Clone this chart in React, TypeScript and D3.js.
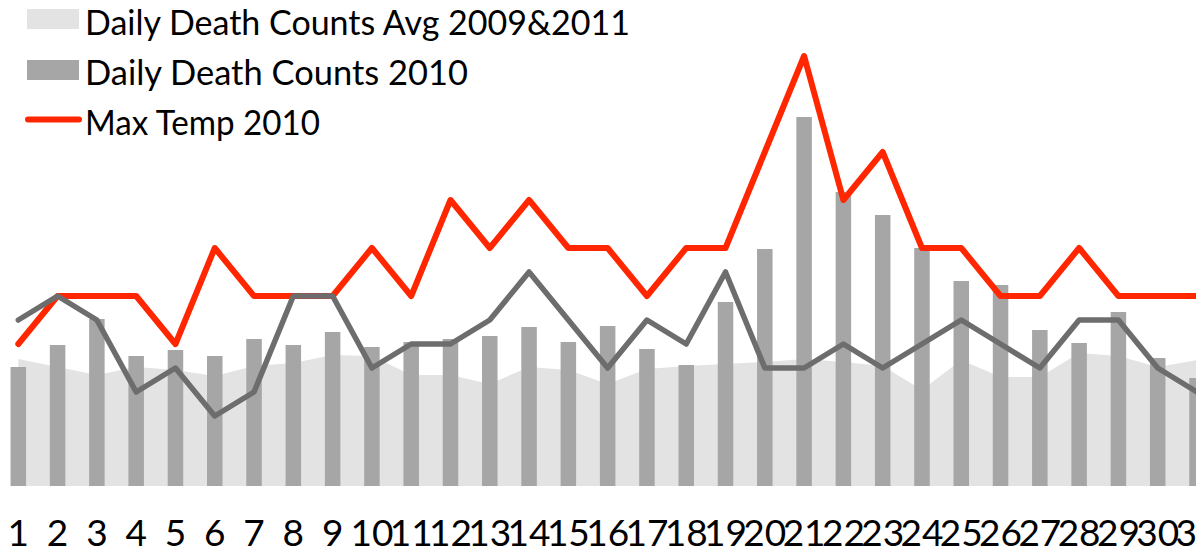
import React from "react";
import * as d3 from "d3";

const days = [
  "1", "2", "3", "4", "5", "6", "7", "8", "9", "10", "11", "12", "13", "14", "15", "16",
  "17", "18", "19", "20", "21", "22", "23", "24", "25", "26", "27", "28", "29", "30", "31",
];

// daily death counts, average of 2009 & 2011 (area)
const deathsAvg = [
  127, 119, 111, 119, 116, 110, 120, 123, 131, 130, 111, 111, 102, 119, 116, 102,
  117, 120, 122, 124, 127, 124, 120, 96, 126, 109, 109, 133, 130, 119, 126,
];

// daily death counts 2010 (bars)
const deaths2010 = [
  119, 141, 167, 130, 136, 130, 147, 141, 154, 139, 144, 147, 150, 159, 144, 160,
  137, 121, 184, 237, 369, 294, 271, 238, 205, 201, 156, 143, 174, 128, 108,
];

// max temperature 2010 (red line)
const maxTemp2010 = [
  29, 30, 30, 30, 29, 31, 30, 30, 30, 31, 30, 32, 31, 32, 31, 31,
  30, 31, 31, 33, 35, 32, 33, 31, 31, 30, 30, 31, 30, 30, 30,
];

// max temperature average 2009 & 2011 (grey line, not in legend)
const maxTempAvg = [
  29.5, 30, 29.5, 28, 28.5, 27.5, 28, 30, 30, 28.5, 29, 29, 29.5, 30.5, 29.5, 28.5,
  29.5, 29, 30.5, 28.5, 28.5, 29, 28.5, 29, 29.5, 29, 28.5, 29.5, 29.5, 28.5, 28,
];

const legendLabels = ["Daily Death Counts Avg 2009&2011", "Daily Death Counts 2010", "Max Temp 2010"];
// widths the legend texts take in the original (Gill Sans is narrower than Lato)
const legendWidths = [545, 383, 235];

const W = 1196;
const H = 557;
const FONT = "Lato, 'Open Sans', sans-serif";

export default function App() {
  const x = d3.scalePoint<string>().domain(days).range([18.3, 1197]);
  const yDeaths = d3.scaleLinear().domain([0, 400]).range([486, 86]);
  const yTemp = d3.scaleLinear().domain([26, 36]).range([488, 8]);

  const area = d3
    .area<number>()
    .x((_, i) => x(days[i]) as number)
    .y0(yDeaths(0))
    .y1((d) => yDeaths(d));

  const tempLine = d3
    .line<number>()
    .x((_, i) => x(days[i]) as number)
    .y((d) => yTemp(d));

  const barW = 15.5;

  return (
    <svg
      width={W}
      height={H}
      style={{ position: "absolute", left: 0, top: 0, background: "#fff" }}
    >
      <path d={area(deathsAvg) ?? ""} fill="#e3e3e3" />
      {deaths2010.map((d, i) => (
        <rect
          key={i}
          x={(x(days[i]) as number) - barW / 2}
          y={yDeaths(d)}
          width={barW}
          height={yDeaths(0) - yDeaths(d)}
          fill="#a6a6a6"
        />
      ))}
      <path
        d={tempLine(maxTemp2010) ?? ""}
        fill="none"
        stroke="#ff2600"
        strokeWidth={6}
        strokeLinejoin="round"
        strokeLinecap="round"
      />
      <path
        d={tempLine(maxTempAvg) ?? ""}
        fill="none"
        stroke="#6d6d6d"
        strokeWidth={5.5}
        strokeLinejoin="round"
        strokeLinecap="round"
      />

      {days.map((d) => (
        <text
          key={d}
          x={x(d)}
          y={546}
          textAnchor="middle"
          fontFamily={FONT}
          fontSize={37}
          fill="#000"
        >
          {d}
        </text>
      ))}

      {/* legend */}
      <g fontFamily={FONT} fontSize={35} fill="#000">
        <rect x={27} y={9} width={52} height={20} fill="#e3e3e3" />
        <text x={85} y={35} textLength={legendWidths[0]} lengthAdjust="spacingAndGlyphs">
          {legendLabels[0]}
        </text>
        <rect x={27} y={60} width={52} height={20} fill="#a6a6a6" />
        <text x={85} y={85} textLength={legendWidths[1]} lengthAdjust="spacingAndGlyphs">
          {legendLabels[1]}
        </text>
        <line x1={28} x2={79} y1={119.5} y2={119.5} stroke="#ff2600" strokeWidth={6} strokeLinecap="round" />
        <text x={85} y={135} textLength={legendWidths[2]} lengthAdjust="spacingAndGlyphs">
          {legendLabels[2]}
        </text>
      </g>
    </svg>
  );
}
